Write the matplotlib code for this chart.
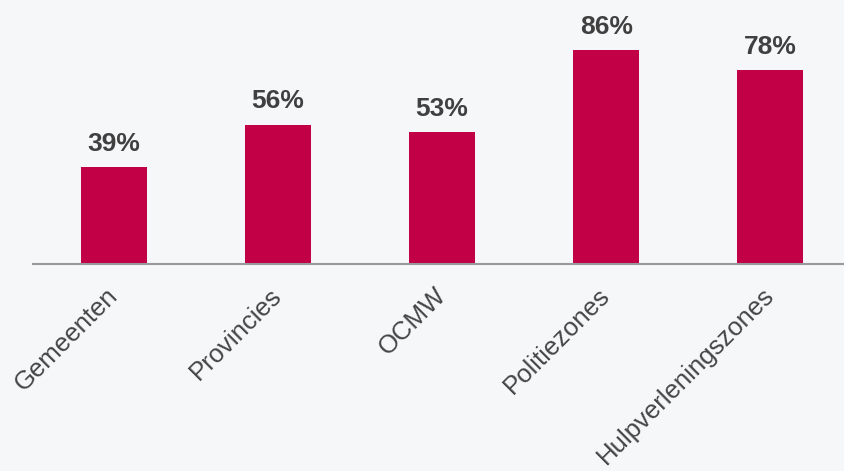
import matplotlib.pyplot as plt

# Data
categories = ['Gemeenten', 'Provincies', 'OCMW', 'Politiezones', 'Hulpverleningszones']
values = [39, 56, 53, 86, 78]

bg = '#f6f7f9'
bar_color = '#c20046'
text_color = '#404040'

plt.rcParams['font.family'] = ['Liberation Sans', 'DejaVu Sans']

fig = plt.figure(figsize=(8.44, 4.71), dpi=100, facecolor=bg)
ax = fig.add_axes([33 / 844, 207 / 471, 811 / 844, 249 / 471])
ax.set_facecolor(bg)

x = list(range(len(categories)))
ax.bar(x, values, width=0.4, color=bar_color, zorder=2)

# Waarden boven de balken
for xi, v in zip(x, values):
    ax.annotate(f'{v}%', (xi, v), xytext=(0, 8), textcoords='offset points',
                ha='center', va='bottom', fontsize=19,
                fontweight='bold', color=text_color)

ax.set_xlim(-0.494, 4.45)
ax.set_ylim(0, 100)

ax.set_xticks(x)
ax.set_xticklabels(categories, rotation=45, ha='right', va='center',
                   rotation_mode='anchor', fontsize=18.5, color='#454545')
ax.tick_params(axis='x', length=0, pad=20)
ax.set_yticks([])

for side in ['top', 'right', 'left']:
    ax.spines[side].set_visible(False)
ax.spines['bottom'].set_color('#999999')
ax.spines['bottom'].set_linewidth(1.5)

fig.savefig('out.png', dpi=100, facecolor=bg)
